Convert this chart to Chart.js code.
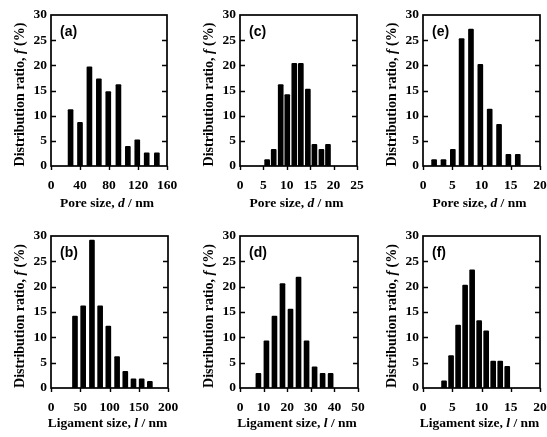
<!DOCTYPE html>
<html>
<head>
<meta charset="utf-8">
<script src="https://cdn.jsdelivr.net/npm/chart.js@4/dist/chart.umd.min.js"></script>
<style>
  html, body { margin: 0; padding: 0; background: #fff; }
  body { width: 547px; height: 437px; position: relative; overflow: hidden; }
  canvas { position: absolute; }
</style>
</head>
<body>
<canvas id="pa" width="180" height="218" style="left:0px;top:0px"></canvas>
<canvas id="pc" width="180" height="218" style="left:189px;top:0px"></canvas>
<canvas id="pe" width="175" height="218" style="left:372px;top:0px"></canvas>
<canvas id="pb" width="180" height="218" style="left:0px;top:219px"></canvas>
<canvas id="pd" width="180" height="218" style="left:189px;top:219px"></canvas>
<canvas id="pf" width="175" height="218" style="left:372px;top:219px"></canvas>
<script>
// Size distributions of pores (d) and ligaments (l), distribution ratio f in %
const poreA  = [27, 40, 53, 66, 79, 93, 106, 119, 132, 146];
const ratioA = [11.2, 8.7, 19.7, 17.3, 14.8, 16.2, 3.9, 5.2, 2.6, 2.6];
const ligB   = [41, 55, 70, 84, 98, 113, 127, 141, 155, 169];
const ratioB = [14.2, 16.2, 29.2, 16.2, 12.2, 6.2, 3.3, 1.8, 1.8, 1.3];
const poreC  = [5.8, 7.2, 8.7, 10.1, 11.6, 13.0, 14.5, 15.9, 17.4, 18.8];
const ratioC = [1.3, 3.3, 16.2, 14.2, 20.4, 20.4, 15.3, 4.3, 3.3, 4.3];
const ligD   = [7.8, 11.2, 14.6, 18.0, 21.4, 24.8, 28.2, 31.6, 35.0, 38.4];
const ratioD = [2.9, 9.3, 14.2, 20.6, 15.6, 21.9, 9.3, 4.2, 2.9, 2.9];
const poreE  = [1.9, 3.5, 5.1, 6.6, 8.2, 9.8, 11.4, 13.0, 14.6, 16.2];
const ratioE = [1.3, 1.3, 3.3, 25.3, 27.2, 20.2, 11.3, 8.3, 2.3, 2.3];
const ligF   = [3.6, 4.8, 6.0, 7.2, 8.4, 9.6, 10.8, 12.0, 13.2, 14.4];
const ratioF = [1.4, 6.4, 12.4, 20.3, 23.3, 13.3, 11.3, 5.3, 5.3, 4.3];

// Axis ranges and tick steps
const yMax = 30, yStep = 5;
const xMaxA = 160, xStepA = 40;
const xMaxB = 200, xStepB = 50;
const xMaxC = 25,  xStepC = 5;
const xMaxD = 50,  xStepD = 10;
const xMaxE = 20,  xStepE = 5;
const xMaxF = 20,  xStepF = 5;

// Panel tags and axis titles (italic parts flagged)
const yTitle = [['Distribution ratio, ', false], ['f', true], [' (%)', false]];
const poreTitle = [['Pore size, ', false], ['d', true], [' / nm', false]];
const ligTitle = [['Ligament size, ', false], ['l', true], [' / nm', false]];

const SERIF = '"Liberation Serif", "Times New Roman", serif';
const SANS = '"Liberation Sans", Arial, sans-serif';
const INK = '#000';

function drawRich(ctx, parts, cx, cy, size) {
  let total = 0;
  const widths = parts.map(([t, it]) => {
    ctx.font = (it ? 'italic ' : '') + 'bold ' + size + 'px ' + SERIF;
    const w = ctx.measureText(t).width;
    total += w;
    return w;
  });
  let x = cx - total / 2;
  ctx.textAlign = 'left';
  ctx.textBaseline = 'middle';
  parts.forEach(([t, it], i) => {
    ctx.font = (it ? 'italic ' : '') + 'bold ' + size + 'px ' + SERIF;
    ctx.fillText(t, x, cy);
    x += widths[i];
  });
}

function framePlugin(tag, xTitle, titleGap) {
  return {
    id: 'frame' + tag,
    afterDatasetsDraw(chart) {
      const { ctx, chartArea: a, scales: { x, y } } = chart;
      ctx.save();
      ctx.strokeStyle = INK;
      ctx.fillStyle = INK;
      // box around the plot area
      ctx.lineWidth = 1.7;
      ctx.strokeRect(a.left, a.top, a.right - a.left, a.bottom - a.top);
      // inward ticks on both vertical sides, outward ticks under the x axis
      ctx.lineWidth = 1.4;
      ctx.beginPath();
      y.ticks.forEach(t => {
        if (t.value <= y.min || t.value >= y.max) return;
        const py = Math.round(y.getPixelForValue(t.value)) + 0.5;
        ctx.moveTo(a.left, py); ctx.lineTo(a.left + 5, py);
        ctx.moveTo(a.right, py); ctx.lineTo(a.right - 5, py);
      });
      x.ticks.forEach(t => {
        const px = Math.round(x.getPixelForValue(t.value)) + 0.5;
        ctx.moveTo(px, a.bottom); ctx.lineTo(px, a.bottom + 4);
      });
      ctx.stroke();
      // panel tag
      ctx.font = 'bold 14px ' + SANS;
      ctx.textAlign = 'left';
      ctx.textBaseline = 'middle';
      ctx.fillText('(' + tag + ')', a.left + 9, a.top + 17);
      // x axis title
      drawRich(ctx, xTitle, (a.left + a.right) / 2 - 2, a.bottom + titleGap, 13.5);
      // y axis title
      ctx.translate(20, (a.top + a.bottom) / 2 + 4);
      ctx.rotate(-Math.PI / 2);
      drawRich(ctx, yTitle, 0, 0, 14);
      ctx.restore();
    }
  };
}

function makePanel(id, tag, xs, ys, xMax, xStep, xTitle, layout) {
  const data = xs.map((v, i) => ({ x: v, y: ys[i] }));
  new Chart(document.getElementById(id), {
    type: 'bar',
    data: {
      datasets: [{
        data: data,
        backgroundColor: INK,
        borderWidth: 0,
        barThickness: 5,
        borderRadius: 1
      }]
    },
    options: {
      responsive: false,
      animation: false,
      devicePixelRatio: 1,
      layout: { padding: { left: 0, right: layout.padRight, top: layout.padTop, bottom: 0 } },
      plugins: { legend: { display: false }, tooltip: { enabled: false } },
      scales: {
        x: {
          type: 'linear',
          offset: false,
          min: 0,
          max: xMax,
          grid: { display: false, drawTicks: false, offset: false },
          border: { display: false },
          ticks: {
            stepSize: xStep,
            autoSkip: false,
            maxRotation: 0,
            padding: 11,
            color: INK,
            font: { family: SERIF, size: 13.5, weight: 'bold' }
          },
          afterFit(s) { s.height = layout.xh; s.paddingLeft = 0; s.paddingRight = 0; }
        },
        y: {
          min: 0,
          max: yMax,
          grid: { display: false, drawTicks: false },
          border: { display: false },
          ticks: {
            stepSize: yStep,
            padding: 4,
            color: INK,
            font: { family: SERIF, size: 13.5, weight: 'bold' }
          },
          afterFit(s) { s.width = 51; s.paddingTop = 0; s.paddingBottom = 0; }
        }
      }
    },
    plugins: [framePlugin(tag, xTitle, layout.titleGap)]
  });
}

const row1 = { padTop: 15, xh: 52, titleGap: 38 };
const row2 = { padTop: 17, xh: 49, titleGap: 36 };

makePanel('pa', 'a', poreA, ratioA, xMaxA, xStepA, poreTitle, Object.assign({ padRight: 13 }, row1));
makePanel('pc', 'c', poreC, ratioC, xMaxC, xStepC, poreTitle, Object.assign({ padRight: 12 }, row1));
makePanel('pe', 'e', poreE, ratioE, xMaxE, xStepE, poreTitle, Object.assign({ padRight: 7 }, row1));
makePanel('pb', 'b', ligB, ratioB, xMaxB, xStepB, ligTitle, Object.assign({ padRight: 12 }, row2));
makePanel('pd', 'd', ligD, ratioD, xMaxD, xStepD, ligTitle, Object.assign({ padRight: 11 }, row2));
makePanel('pf', 'f', ligF, ratioF, xMaxF, xStepF, ligTitle, Object.assign({ padRight: 7 }, row2));
</script>
</body>
</html>
